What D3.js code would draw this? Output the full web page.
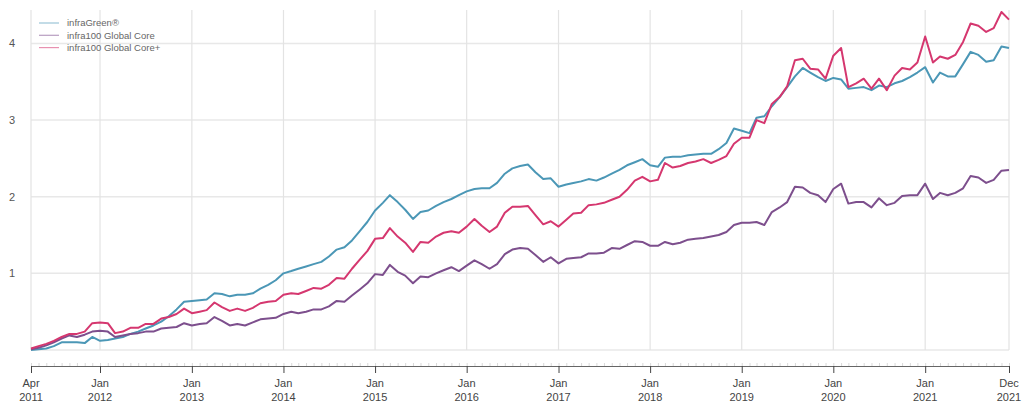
<!DOCTYPE html>
<html>
<head>
<meta charset="utf-8">
<script src="https://cdn.jsdelivr.net/npm/d3@7"></script>
<style>
  body { margin: 0; background: #fff; }
  svg { font-family: "Liberation Sans", Arial, sans-serif; }
</style>
</head>
<body>
<svg width="1022" height="402"></svg>
<script>
// monthly values, Apr 2011 .. Dec 2021
var startYear = 2011, startMonth = 3;

var infraGreen = [
  0.00, 0.01, 0.02, 0.05, 0.10, 0.10, 0.10, 0.09, 0.17, 0.12, 0.13, 0.15,
  0.17, 0.21, 0.24, 0.28, 0.32, 0.37, 0.44, 0.53, 0.63, 0.64, 0.65, 0.66,
  0.74, 0.73, 0.70, 0.72, 0.72, 0.74, 0.80, 0.85, 0.91, 1.00, 1.03, 1.06,
  1.09, 1.12, 1.15, 1.22, 1.31, 1.34, 1.43, 1.55, 1.67, 1.82, 1.92, 2.02,
  1.93, 1.83, 1.71, 1.80, 1.82, 1.88, 1.93, 1.97, 2.02, 2.07, 2.10, 2.11,
  2.11, 2.18, 2.30, 2.37, 2.40, 2.42, 2.32, 2.23, 2.24, 2.13, 2.16, 2.18,
  2.20, 2.23, 2.21, 2.25, 2.30, 2.35, 2.41, 2.45, 2.49, 2.41, 2.39, 2.51,
  2.52, 2.52, 2.54, 2.55, 2.56, 2.56, 2.62, 2.70, 2.89, 2.86, 2.83, 3.03,
  3.05, 3.18, 3.30, 3.43, 3.57, 3.68, 3.62, 3.56, 3.51, 3.55, 3.53, 3.41,
  3.42, 3.43, 3.39, 3.45, 3.43, 3.48, 3.51, 3.56, 3.62, 3.69, 3.49, 3.62,
  3.57, 3.57, 3.73, 3.89, 3.85, 3.76, 3.78, 3.96, 3.94
];

var globalCore = [
  0.01, 0.03, 0.06, 0.10, 0.15, 0.19, 0.17, 0.20, 0.24, 0.25, 0.24, 0.17,
  0.19, 0.21, 0.22, 0.24, 0.24, 0.28, 0.29, 0.30, 0.35, 0.32, 0.34, 0.35,
  0.43, 0.38, 0.32, 0.34, 0.32, 0.36, 0.40, 0.41, 0.42, 0.47, 0.50, 0.48,
  0.50, 0.53, 0.53, 0.57, 0.64, 0.63, 0.71, 0.79, 0.87, 0.99, 0.98, 1.11,
  1.02, 0.97, 0.87, 0.96, 0.95, 1.00, 1.04, 1.08, 1.03, 1.10, 1.17, 1.12,
  1.06, 1.12, 1.25, 1.31, 1.33, 1.32, 1.24, 1.15, 1.21, 1.13, 1.19, 1.20,
  1.21, 1.26, 1.26, 1.27, 1.33, 1.32, 1.37, 1.42, 1.41, 1.36, 1.36, 1.41,
  1.38, 1.40, 1.44, 1.45, 1.46, 1.48, 1.50, 1.54, 1.63, 1.66, 1.66, 1.67,
  1.63, 1.80, 1.86, 1.93, 2.13, 2.12, 2.05, 2.02, 1.93, 2.10, 2.17, 1.91,
  1.93, 1.93, 1.86, 1.98, 1.89, 1.92, 2.01, 2.02, 2.02, 2.17, 1.97, 2.05,
  2.02, 2.05, 2.11, 2.27, 2.25, 2.18, 2.22, 2.34, 2.35
];

var globalCorePlus = [
  0.02, 0.05, 0.08, 0.12, 0.17, 0.21, 0.21, 0.24, 0.35, 0.36, 0.35, 0.22,
  0.24, 0.29, 0.29, 0.34, 0.34, 0.41, 0.43, 0.47, 0.54, 0.48, 0.50, 0.52,
  0.62, 0.56, 0.51, 0.54, 0.51, 0.55, 0.61, 0.63, 0.64, 0.72, 0.74, 0.73,
  0.77, 0.81, 0.80, 0.85, 0.94, 0.93, 1.06, 1.18, 1.29, 1.45, 1.46, 1.59,
  1.48, 1.40, 1.28, 1.41, 1.40, 1.48, 1.53, 1.55, 1.53, 1.61, 1.71, 1.62,
  1.54, 1.61, 1.79, 1.87, 1.87, 1.88, 1.76, 1.64, 1.68, 1.61, 1.70, 1.78,
  1.79, 1.89, 1.90, 1.92, 1.96, 2.00, 2.09, 2.21, 2.26, 2.20, 2.22, 2.44,
  2.38, 2.40, 2.44, 2.46, 2.49, 2.44, 2.48, 2.53, 2.69, 2.77, 2.77, 3.00,
  2.96, 3.21, 3.30, 3.44, 3.78, 3.80, 3.67, 3.66, 3.54, 3.84, 3.94, 3.43,
  3.48, 3.54, 3.41, 3.54, 3.39, 3.58, 3.68, 3.66, 3.75, 4.09, 3.75, 3.83,
  3.80, 3.85, 4.02, 4.26, 4.23, 4.15, 4.20, 4.41, 4.31
];

var seriesNames = ["infraGreen\u00ae", "infra100 Global Core", "infra100 Global Core+"];
var seriesColors = ["#4b97b6", "#7d4f8d", "#d5376f"];
var yTicks = [1, 2, 3, 4];
var xTickDates = [
  new Date(2011, 3, 1), new Date(2012, 0, 1), new Date(2013, 0, 1), new Date(2014, 0, 1),
  new Date(2015, 0, 1), new Date(2016, 0, 1), new Date(2017, 0, 1), new Date(2018, 0, 1),
  new Date(2019, 0, 1), new Date(2020, 0, 1), new Date(2021, 0, 1), new Date(2021, 11, 1)
];
var monthNames = ["Jan", "Feb", "Mar", "Apr", "May", "Jun", "Jul", "Aug", "Sep", "Oct", "Nov", "Dec"];

var svg = d3.select("svg"),
    margin = {top: 12, right: 13, bottom: 52, left: 31},
    width = +svg.attr("width") - margin.left - margin.right,
    height = +svg.attr("height") - margin.top - margin.bottom;

var dates = infraGreen.map(function (d, i) {
  return new Date(startYear, startMonth + i, 1);
});

var x = d3.scaleTime().domain([dates[0], dates[dates.length - 1]]).range([0, width]);
var y = d3.scaleLinear().domain([0, 4.41]).range([height, 0]);

var g = svg.append("g")
    .attr("transform", "translate(" + margin.left + "," + margin.top + ")");

// grid
g.append("g")
    .selectAll("line")
    .data([0].concat(yTicks))
    .enter().append("line")
    .attr("x1", 0)
    .attr("x2", width)
    .attr("y1", function (d) { return y(d); })
    .attr("y2", function (d) { return y(d); })
    .attr("stroke", "#e8e8e8")
    .attr("stroke-width", 1.5);

g.append("g")
    .selectAll("line")
    .data(xTickDates)
    .enter().append("line")
    .attr("x1", function (d) { return x(d); })
    .attr("x2", function (d) { return x(d); })
    .attr("y1", -2)
    .attr("y2", height)
    .attr("stroke", "#e3e3e3")
    .attr("stroke-width", 1.2);

// y labels
g.append("g")
    .selectAll("text")
    .data(yTicks)
    .enter().append("text")
    .attr("x", -19)
    .attr("y", function (d) { return y(d); })
    .attr("dy", "0.35em")
    .attr("text-anchor", "middle")
    .attr("font-size", 11)
    .attr("fill", "#555")
    .text(function (d) { return d; });

// x axis with monthly minor ticks
var axisY = height + 16;
var minor = g.append("g")
    .attr("transform", "translate(0," + axisY + ")")
    .call(d3.axisTop(x).ticks(d3.timeMonth.every(1)).tickSize(3).tickFormat(""));
minor.select(".domain").remove();
minor.selectAll("line").attr("stroke", "#d9d9d9");

var major = g.append("g")
    .attr("transform", "translate(0," + axisY + ")")
    .call(d3.axisBottom(x).tickValues(xTickDates).tickSizeInner(7).tickSizeOuter(0).tickFormat(""));
major.select(".domain").attr("stroke", "#666");
major.selectAll("line").attr("stroke", "#444");

var labels = g.append("g")
    .selectAll("text")
    .data(xTickDates)
    .enter().append("text")
    .attr("x", function (d) { return x(d); })
    .attr("y", axisY + 21)
    .attr("text-anchor", "middle")
    .attr("font-size", 11)
    .attr("fill", "#444");
labels.append("tspan")
    .attr("x", function (d) { return x(d); })
    .text(function (d) { return monthNames[d.getMonth()]; });
labels.append("tspan")
    .attr("x", function (d) { return x(d); })
    .attr("dy", 14)
    .text(function (d) { return d.getFullYear(); });

// lines
var line = d3.line()
    .x(function (d, i) { return x(dates[i]); })
    .y(function (d) { return y(d); });

var allSeries = [infraGreen, globalCore, globalCorePlus];
g.selectAll(".series")
    .data(allSeries)
    .enter().append("path")
    .attr("class", "series")
    .attr("fill", "none")
    .attr("stroke", function (d, i) { return seriesColors[i]; })
    .attr("stroke-width", 2)
    .attr("stroke-linejoin", "round")
    .attr("d", line);

// legend
var legend = svg.append("g")
    .attr("transform", "translate(39,23)");
var item = legend.selectAll("g")
    .data(seriesNames)
    .enter().append("g")
    .attr("transform", function (d, i) { return "translate(0," + (i * 12.3) + ")"; });
item.append("line")
    .attr("x1", 0)
    .attr("x2", 20)
    .attr("stroke", function (d, i) { return seriesColors[i]; })
    .attr("stroke-opacity", 0.55)
    .attr("stroke-width", 1.2);
item.append("text")
    .attr("x", 28)
    .attr("dy", "0.35em")
    .attr("font-size", 9.5)
    .attr("fill", "#666")
    .text(function (d) { return d; });
</script>
</body>
</html>
